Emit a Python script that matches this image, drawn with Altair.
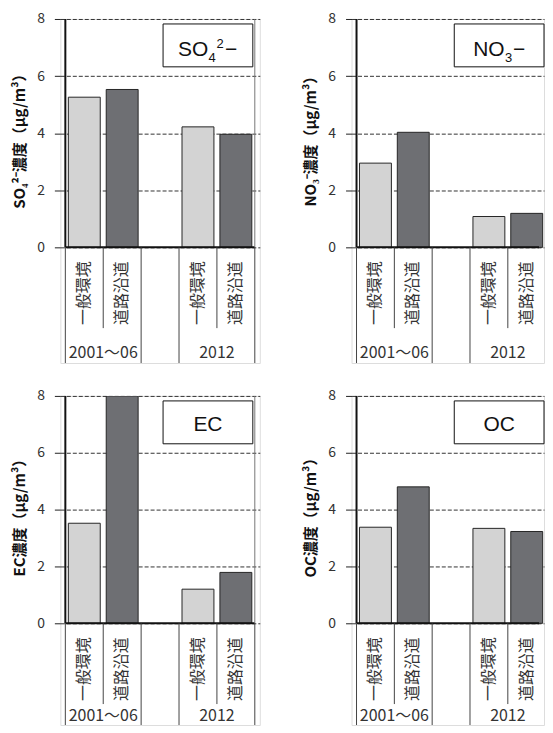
import altair as alt
import pandas as pd

# ---- data ----
categories = ["一般環境", "道路沿道"]
periods = ["2001～06", "2012"]
so4 = [5.26, 5.53, 4.22, 3.96]
no3 = [2.95, 4.03, 1.08, 1.19]
ec = [3.52, 8.0, 1.20, 1.79]
oc = [3.38, 4.80, 3.34, 3.23]
y_ticks = [0, 2, 4, 6, 8]

y_titles = ["SO₄²⁻濃度（μg/m³）", "NO₃⁻濃度（μg/m³）", "EC濃度（μg/m³）", "OC濃度（μg/m³）"]

JP = "Noto Sans CJK JP"
LAT = "Liberation Sans"

# box label pieces: (text, font size, x, baseline y)
so4_label = [("SO", 21, 118, 37), ("4", 13, 148.5, 43), ("2", 13, 156.5, 29), ("−", 21, 165, 37)]
no3_label = [("NO", 21, 122, 37), ("3", 13, 154, 43), ("−", 21, 162, 37)]
ec_label = [("EC", 21, 148, 35)]
oc_label = [("OC", 21, 148, 35)]


def panel(values, ytitle, label_parts, width, xmax, H, zero_px):
    ymin = -8.0 * (H - zero_px) / zero_px
    rows = []
    for p, per in enumerate(periods):
        for c, cat in enumerate(categories):
            rows.append({"slot": 3 * p + c + 0.5, "cat": cat, "period": per,
                         "value": values[2 * p + c]})
    df = pd.DataFrame(rows)
    xs = alt.Scale(domain=[0, xmax], nice=False, zero=False)
    ys = alt.Scale(domain=[ymin, 8], nice=False, zero=False)

    bars = alt.Chart(df).mark_bar(size=32, stroke="#262626", strokeWidth=1, clip=True).encode(
        x=alt.X("slot:Q", scale=xs, axis=None),
        y=alt.Y("value:Q", scale=ys, axis=alt.Axis(
            values=y_ticks, grid=True, gridDash=[4, 2], gridColor="#333", gridWidth=1,
            domain=False, ticks=True, tickSize=6, tickColor="#222", tickWidth=1,
            labelFont=JP, labelFontSize=14, labelColor="#333", labelPadding=10,
            title=ytitle, titleFont=JP, titleFontSize=15, titleFontWeight="bold",
            titleColor="#111", titleAngle=270, titleX=-41, titleY=zero_px / 2 + 4,
            titleBaseline="middle", titleAlign="center")),
        y2=alt.datum(0),
        color=alt.Color("cat:N", scale=alt.Scale(domain=categories, range=["#d3d3d3", "#6e6f73"]),
                        legend=None),
    )

    one = pd.DataFrame({"k": [0]})
    yaxis_line = alt.Chart(one).mark_rule(color="#111", strokeWidth=2).encode(
        x=alt.datum(0, scale=xs), y=alt.datum(0), y2=alt.datum(8))
    xaxis_line = alt.Chart(one).mark_rule(color="#111", strokeWidth=2, clip=True).encode(
        x=alt.datum(0), x2=alt.datum(xmax), y=alt.datum(0))

    full_b = pd.DataFrame({"b": [0, 2, 3, 5]})
    short_b = pd.DataFrame({"b": [1, 4]})
    sep_full = alt.Chart(full_b).mark_rule(color="#444", strokeWidth=1, clip=True).encode(
        x="b:Q", y=alt.datum(0), y2=alt.datum(ymin))
    sep_short = alt.Chart(short_b).mark_rule(color="#444", strokeWidth=1, clip=True).encode(
        x="b:Q", y=alt.datum(0), y2=alt.value(zero_px + 81))
    right_border = alt.Chart(pd.DataFrame({"b": [5]})).mark_rule(
        color="#777", strokeWidth=1, clip=True).encode(x="b:Q", y=alt.datum(0), y2=alt.datum(8))

    box = alt.Chart(one).mark_rect(fill="white", stroke="#111", strokeWidth=1).encode(
        x=alt.value(103), x2=alt.value(193), y=alt.value(5), y2=alt.value(48))
    layers = [bars, yaxis_line, xaxis_line, sep_full, sep_short, right_border, box]
    for txt, fs, px, py in label_parts:
        layers.append(alt.Chart(one).mark_text(
            text=txt, font=LAT, fontSize=fs, color="#111",
            align="center" if len(label_parts) == 1 else "left", baseline="alphabetic").encode(
            x=alt.value(px), y=alt.value(py)))

    cat_text = alt.Chart(df).mark_text(
        font=JP, fontSize=16, color="#333", angle=270, align="right", baseline="middle").encode(
        x="slot:Q", y=alt.value(zero_px + 14), text="cat:N")
    per_df = pd.DataFrame({"pos": [3 * p + 1 for p in range(len(periods))], "period": periods})
    year_y = min(zero_px + 106, H - 9)
    per_text = alt.Chart(per_df).mark_text(
        font=JP, fontSize=16, color="#333", align="center", baseline="middle").encode(
        x="pos:Q", y=alt.value(year_y), text="period:N")
    layers += [cat_text, per_text]
    return alt.layer(*layers).properties(width=width, height=H)


RW = 193  # right-hand panels are cut at the page edge, as in the reference
p1 = panel(so4, y_titles[0], so4_label, 200, 5, 345, 229)
p2 = panel(no3, y_titles[1], no3_label, RW, RW / 40, 345, 229)
p3 = panel(ec, y_titles[2], ec_label, 200, 5, 330, 228)
p4 = panel(oc, y_titles[3], oc_label, RW, RW / 40, 330, 228)

top = alt.hconcat(p1, p2, spacing=42)
bottom = alt.hconcat(p3, p4, spacing=42)
chart = alt.vconcat(top, bottom, spacing=24).properties(
    padding={"left": 3.5, "top": 2, "right": 0, "bottom": 0}
).configure_view(stroke=None).configure(background="white")

chart.save("out.html", embed_options={"renderer": "svg", "actions": False})
